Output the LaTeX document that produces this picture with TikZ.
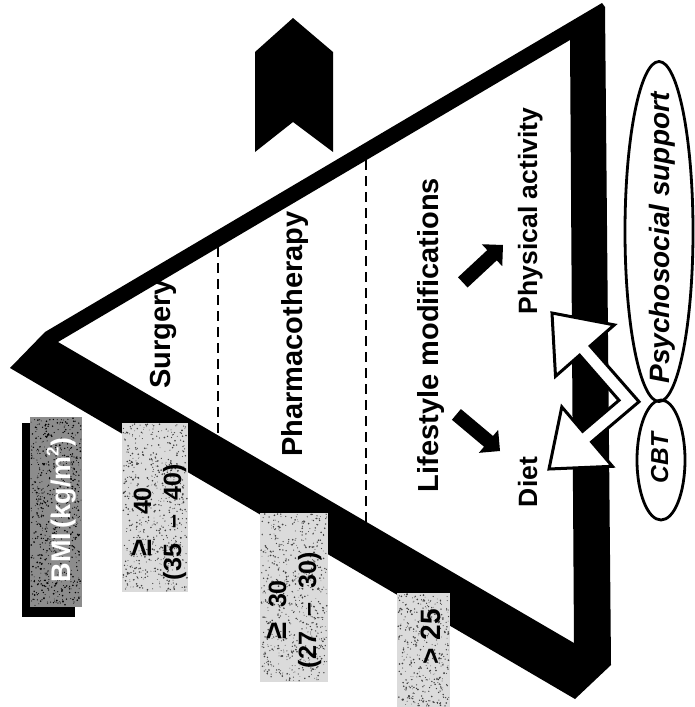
\documentclass[tikz,border=0pt]{standalone}
\usepackage{fontspec}
\setmainfont{Liberation Sans}
\usetikzlibrary{shapes.geometric,calc}

% block arrow from #1 (tail) to #2 (tip)
\newcommand\blockarrow[2]{%
  \path ($(#2)!15pt!(#1)$) coordinate (ba-base);
  \fill ($(#1)!7pt!90:(#2)$) -- ($(ba-base)!7pt!90:(#2)$) -- ($(ba-base)!15pt!90:(#2)$)
    -- (#2) -- ($(ba-base)!15pt!-90:(#2)$) -- ($(ba-base)!7pt!-90:(#2)$)
    -- ($(#1)!7pt!-90:(#2)$) -- cycle;}

% halftone grain inside a rectangle: x1 y1 x2 y2 count colour
\newcommand\grain[6]{%
  \foreach \gi in {1,...,#5}{%
    \pgfmathsetmacro\gx{#1+rnd*(#3-#1)}%
    \pgfmathsetmacro\gy{#2+rnd*(#4-#2)}%
    \pgfmathsetmacro\gr{0.35+0.6*rnd}%
    \fill[#6] (\gx,\gy) circle[radius=\gr];}}

% enlarged greater-or-equal sign
\newcommand\bigge{{\fontsize{31}{31}\selectfont ≥}}

\begin{document}
\begin{tikzpicture}[x=1pt,y=-1pt,
  every node/.style={inner sep=0pt,outer sep=0pt},
  rlabel/.style={rotate=90,anchor=base,font=\bfseries\fontsize{#1}{#1}\selectfont},
  rlabel/.default=29,
  ritlabel/.style={rotate=90,anchor=base,font=\bfseries\itshape\fontsize{#1}{#1}\selectfont},
  rbin/.style={rotate=90,align=center,font=\bfseries\fontsize{25}{30}\selectfont},
  binbox/.style={fill=black!14,rectangle},
  gridline/.style={dash pattern=on 10pt off 6pt,line width=1.4pt},
  oval/.style={ellipse,draw,line width=2.8pt}
]
\useasboundingbox (0,0) rectangle (695,707);
\pgfmathsetseed{4711}

% pyramid frame (thick outline with heavier lower and right sides)
\fill[even odd rule]
  (10,368) -- (45,332) -- (602,3) -- (605,7) -- (611,665) -- (575,699) -- cycle
  (58,342) -- (570,40) -- (574,643) -- cycle;

% dividing lines between the tiers
\coordinate (d1t) at (218,247); \coordinate (d1b) at (218,435);
\coordinate (d2t) at (366,160); \coordinate (d2b) at (366,522);
\draw[gridline] (d1t) -- (d1b);
\draw[gridline] (d2t) -- (d2b);

% direction marker above the pyramid
\fill (293,18) -- (333,52) -- (333,152) -- (293,122) -- (255,152) -- (255,52) -- cycle;

% tier labels
\node[rlabel] (surgery) at (170,334) {Surgery};
\node[rlabel] (pharma) at (302,334) {Pharmacotherapy};
\node[rlabel] (life) at (438,335) {Lifestyle modifications};
\node[rlabel=26.5] (phys) at (537,211) {Physical activity};
\node[rlabel=26.5] (diet) at (537,482) {Diet};

% arrows from lifestyle modifications to its two parts
\coordinate (a1t) at (462.8,282.4); \coordinate (a1h) at (503,245);
\coordinate (a2t) at (456.4,414.4); \coordinate (a2h) at (500,451);
\blockarrow{a1t}{a1h}
\blockarrow{a2t}{a2h}

% BMI thresholds
\node[binbox,minimum width=66pt,minimum height=169pt] (b40) at (155,507.5) {};
\node[binbox,minimum width=68pt,minimum height=169pt] (b30) at (294,597.5) {};
\node[binbox,minimum width=53pt,minimum height=114pt] (b25) at (423.5,650) {};
\grain{123}{424}{187}{591}{650}{black!75}
\grain{261}{514}{327}{681}{650}{black!75}
\grain{398}{594}{449}{706}{380}{black!75}
\node[rbin] (t40) at (159,522) {\bigge\hspace{1.0em}40\\(35\hspace{0.6em}–\hspace{0.6em}40)};
\node[rbin] (t30) at (294,610) {\bigge\hspace{0.6em}30\\(27\hspace{0.6em}–\hspace{0.6em}30)};
\node[rlabel=28] (t25) at (440,637) {>\hspace{0.3em}25};

% BMI heading with shadow
\fill (22,423) rectangle (75,617);
\node[rectangle,fill=black!45,minimum width=52pt,minimum height=190pt] (bmibox) at (56,512) {};
\grain{31}{418}{81}{606}{700}{black}
\node[rlabel=27,text=white] (bmi) at (70,510) {BMI\,(kg/m\raisebox{0.42em}{\fontsize{17}{17}\selectfont 2})};

% support ovals
\node[oval,minimum width=340pt,minimum height=68pt,rotate=90] (psyc) at (659,231.5) {};
\node[oval,minimum width=120pt,minimum height=48pt,rotate=90] (cbt) at (661,460) {};
\node[ritlabel=28] (psyct) at (669,238) {Psychosocial support};
\node[ritlabel=24.5] (cbtt) at (668,458) {CBT};

% two-headed bent arrow from the support ovals to diet and physical activity
\draw[fill=white,line width=3pt,line join=miter]
  (552,313) -- (614.3,324.9) -- (590.2,346.0) -- (639,401.7) -- (591.6,441.9)
  -- (612.4,466.3) -- (549,469) -- (561.8,406.9) -- (582.6,431.3) -- (619,400.3)
  -- (579.6,355.2) -- (555.5,376.3) -- cycle;
\end{tikzpicture}
\end{document}
